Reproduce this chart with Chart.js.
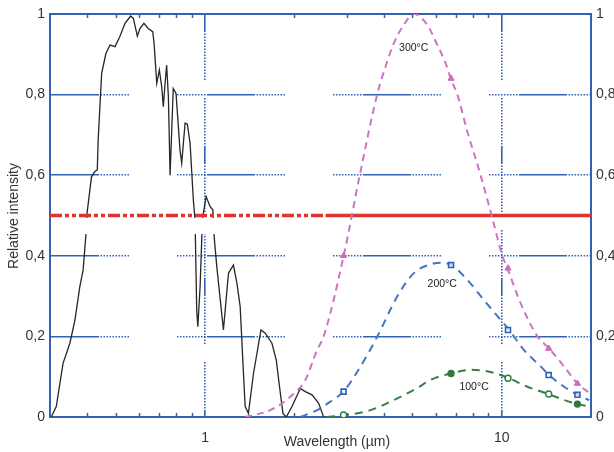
<!DOCTYPE html>
<html>
<head>
<meta charset="utf-8">
<script src="https://cdn.jsdelivr.net/npm/chart.js@4/dist/chart.umd.min.js"></script>
<style>
  html, body { margin: 0; padding: 0; background: #ffffff; }
  #wrap { width: 614px; height: 452px; }
</style>
</head>
<body>
<div id="wrap"><canvas id="chart" width="614" height="452"></canvas></div>
<script>
// Solar spectrum (relative intensity vs wavelength in µm)
const solarWavelength = [0.303, 0.315, 0.332, 0.350, 0.364, 0.378, 0.388, 0.396, 0.400, 0.414, 0.425, 0.433,
  0.436, 0.448, 0.463, 0.478, 0.497, 0.516, 0.537, 0.561, 0.573, 0.591, 0.603, 0.622, 0.643, 0.666, 0.673,
  0.687, 0.701, 0.714, 0.723, 0.733, 0.742, 0.752, 0.762, 0.781, 0.798, 0.823, 0.834, 0.856, 0.871, 0.890,
  0.913, 0.925, 0.937, 0.945, 0.962, 0.975, 0.982, 1.008, 1.040, 1.062, 1.067, 1.073, 1.095, 1.153, 1.199,
  1.246, 1.280, 1.313, 1.347, 1.365, 1.400, 1.456, 1.543, 1.595, 1.680, 1.738, 1.782, 1.830, 1.878, 1.963,
  2.094, 2.177, 2.294, 2.415, 2.510];
const solarIntensity = [0, 0.026, 0.133, 0.183, 0.24, 0.323, 0.365, 0.447, 0.506, 0.596, 0.609, 0.613,
  0.687, 0.853, 0.902, 0.923, 0.919, 0.944, 0.977, 0.995, 0.989, 0.945, 0.964, 0.977, 0.964, 0.956, 0.927,
  0.828, 0.861, 0.82, 0.77, 0.828, 0.873, 0.795, 0.6, 0.815, 0.803, 0.663, 0.63, 0.729, 0.727, 0.679,
  0.538, 0.489, 0.266, 0.224, 0.323, 0.447, 0.497, 0.547, 0.522, 0.514, 0.489, 0.447, 0.373, 0.216, 0.357,
  0.377, 0.332, 0.274, 0.108, 0.026, 0.009, 0.108, 0.216, 0.208, 0.183, 0.141, 0.075, 0.009, 0, 0.026,
  0.071, 0.063, 0.055, 0.034, 0];

// Thermal emission curves
const t300Wavelength = [1.365, 1.658, 1.937, 2.177, 2.385, 2.510, 2.933, 3.322, 3.803, 4.056, 4.326, 4.677,
  5.055, 5.61, 6.066, 6.47, 6.73, 7.087, 7.66, 8.49, 9.30, 10.05, 10.45, 11.59, 13.20, 14.45, 16.24, 18.02, 19.72];
const t300Intensity = [0, 0.017, 0.05, 0.092, 0.166, 0.2, 0.4, 0.6, 0.8, 0.869, 0.927, 0.973,
  1.0, 0.973, 0.923, 0.878, 0.84, 0.8, 0.708, 0.6, 0.493, 0.4, 0.369, 0.282, 0.2, 0.17, 0.125, 0.083, 0.06];

const t200Wavelength = [2.094, 2.385, 2.644, 2.926, 3.339, 3.803, 4.443, 5.055, 5.906, 6.222, 6.761, 7.66,
  8.71, 9.92, 10.59, 11.89, 13.55, 14.45, 16.24, 18.02, 19.72];
const t200Intensity = [0, 0.017, 0.038, 0.063, 0.125, 0.199, 0.299, 0.357, 0.381, 0.383, 0.377, 0.34,
  0.29, 0.241, 0.216, 0.166, 0.125, 0.104, 0.075, 0.055, 0.042];

const t100Wavelength = [2.577, 2.926, 3.61, 4.326, 5.19, 5.755, 6.73, 7.86, 8.71, 9.67, 10.59, 12.21,
  14.38, 16.24, 18.02, 19.72];
const t100Intensity = [0, 0.004, 0.017, 0.042, 0.072, 0.092, 0.108, 0.117, 0.115, 0.107, 0.096, 0.075,
  0.057, 0.042, 0.032, 0.026];

// Measured points on the emission curves
const markerWavelength = [2.93, 6.75, 10.5, 14.4, 18.0];
const t300Markers = [0.4, 0.84, 0.369, 0.17, 0.083];
const t200Markers = [0.063, 0.377, 0.216, 0.104, 0.055];
const t100Markers = [0.005, 0.108, 0.096, 0.057, 0.032];
const t100MarkerFilled = [false, true, false, false, true];

// Threshold line
const thresholdLevel = 0.5;
const thresholdDashedTo = 2.55;

// Axes
const xMin = 0.3, xMax = 20;
const xTickValues = [0.4, 0.5, 0.6, 0.7, 0.8, 0.9, 1, 2, 3, 4, 5, 6, 7, 8, 9, 10];
const xLabelledTicks = [1, 10];
const yMin = 0, yMax = 1, yStep = 0.2;

// Curve captions
const curveCaptions = ['300°C', '200°C', '100°C'];
const captionAnchors = [[5.05, 0.916], [6.3, 0.329], [8.07, 0.075]];

const BLUE = '#3262b4';
const FONT = '"Liberation Sans", Arial, sans-serif';
const TEXT = '#333333';

const pts = (xs, ys) => xs.map((x, i) => ({ x: x, y: ys[i] }));
const yLabel = v => {
  const r = Math.round(v * 10) / 10;
  if (r === 0) return '0';
  if (r === 1) return '1';
  return r.toFixed(1).replace('.', ',');
};
const dots = n => Array(2 * n).fill(1.5);
const hGridDash = [48].concat(dots(10));
const vGridDash = [18].concat(dots(16));

const decor = {
  id: 'decor',
  afterDatasetDraw(chart, args) {
    // White strip under the threshold line, hiding the spectrum there
    if (args.index !== 0) return;
    const { ctx, chartArea, scales } = chart;
    const yTop = scales.y.getPixelForValue(0.494);
    const yBot = scales.y.getPixelForValue(0.454);
    const xRight = scales.x.getPixelForValue(2.6);
    ctx.save();
    ctx.fillStyle = '#ffffff';
    ctx.fillRect(chartArea.left + 1.5, yTop, xRight - chartArea.left - 1.5, yBot - yTop);
    ctx.restore();
  },
  afterDraw(chart) {
    const { ctx, chartArea, scales } = chart;
    const xs = scales.x, ys = scales.y;
    ctx.save();
    // inward minor ticks on top and bottom frame
    ctx.strokeStyle = BLUE;
    ctx.lineWidth = 1.5;
    xTickValues.forEach(v => {
      if (xLabelledTicks.includes(v)) return;
      const px = Math.round(xs.getPixelForValue(v)) + 0.5;
      ctx.beginPath();
      ctx.moveTo(px, chartArea.bottom);
      ctx.lineTo(px, chartArea.bottom - 4);
      ctx.moveTo(px, chartArea.top);
      ctx.lineTo(px, chartArea.top + 4);
      ctx.stroke();
    });
    // curve captions
    ctx.fillStyle = '#222222';
    ctx.font = '10.5px ' + FONT;
    ctx.textAlign = 'center';
    ctx.textBaseline = 'middle';
    curveCaptions.forEach((t, i) => {
      ctx.fillText(t, xs.getPixelForValue(captionAnchors[i][0]), ys.getPixelForValue(captionAnchors[i][1]));
    });
    // axis titles
    ctx.fillStyle = TEXT;
    ctx.font = '14px ' + FONT;
    ctx.fillText('Wavelength (µm)', chartArea.left + 287, chartArea.bottom + 25);
    ctx.translate(14, chartArea.top + 202);
    ctx.rotate(-Math.PI / 2);
    ctx.fillText('Relative intensity', 0, 0);
    ctx.restore();
  }
};

new Chart(document.getElementById('chart'), {
  type: 'line',
  data: {
    datasets: [
      {
        label: 'Solar spectrum',
        data: pts(solarWavelength, solarIntensity),
        borderColor: '#262626', borderWidth: 1.3, pointRadius: 0, tension: 0, order: 10
      },
      {
        label: 'Threshold dashed',
        data: [{ x: xMin, y: thresholdLevel }, { x: thresholdDashedTo, y: thresholdLevel }],
        borderColor: '#dc3431', borderWidth: 3.5, borderDash: [12, 3, 4, 3, 4, 3], pointRadius: 0, order: 6
      },
      {
        label: 'Threshold',
        data: [{ x: thresholdDashedTo, y: thresholdLevel }, { x: xMax, y: thresholdLevel }],
        borderColor: '#dc3431', borderWidth: 3.5, pointRadius: 0, order: 6
      },
      {
        label: '300°C',
        data: pts(t300Wavelength, t300Intensity),
        borderColor: '#cf74c4', borderWidth: 2, borderDash: [7, 5], pointRadius: 0,
        cubicInterpolationMode: 'monotone', order: 4
      },
      {
        label: '200°C',
        data: pts(t200Wavelength, t200Intensity),
        borderColor: '#4673c4', borderWidth: 2, borderDash: [8, 6], pointRadius: 0,
        cubicInterpolationMode: 'monotone', order: 4
      },
      {
        label: '100°C',
        data: pts(t100Wavelength, t100Intensity),
        borderColor: '#3a7d45', borderWidth: 2, borderDash: [8, 6], pointRadius: 0,
        cubicInterpolationMode: 'monotone', order: 4
      },
      {
        label: '300°C points',
        data: pts(markerWavelength, t300Markers),
        showLine: false, pointStyle: 'triangle', pointRadius: 3.5,
        pointBackgroundColor: '#cf74c4', pointBorderColor: '#c064b6', pointBorderWidth: 1, order: 1
      },
      {
        label: '200°C points',
        data: pts(markerWavelength, t200Markers),
        showLine: false, pointStyle: 'rect', pointRadius: 3.5,
        pointBackgroundColor: 'rgba(255,255,255,0.7)', pointBorderColor: '#2e5fb8', pointBorderWidth: 1.6, order: 1
      },
      {
        label: '100°C points',
        data: pts(markerWavelength, t100Markers),
        showLine: false, pointStyle: 'circle', pointRadius: 3,
        pointBackgroundColor: t100MarkerFilled.map(f => f ? '#2f7a3c' : '#ffffff'),
        pointBorderColor: '#2f7a3c', pointBorderWidth: 1.4, order: 1
      }
    ]
  },
  options: {
    responsive: false,
    maintainAspectRatio: false,
    devicePixelRatio: 1,
    animation: false,
    layout: { padding: 0 },
    plugins: { legend: { display: false }, tooltip: { enabled: false }, title: { display: false } },
    scales: {
      x: {
        type: 'logarithmic', position: 'bottom', min: xMin, max: xMax,
        afterBuildTicks: s => { s.ticks = xTickValues.map(v => ({ value: v })); },
        afterFit: s => { s.height = 35; },
        grid: {
          color: c => (c.tick && xLabelledTicks.includes(c.tick.value)) ? BLUE : 'rgba(0,0,0,0)',
          lineWidth: 1.6, drawTicks: false
        },
        border: { display: true, color: BLUE, width: 2, dash: vGridDash },
        ticks: {
          autoSkip: false, maxRotation: 0, padding: 13, color: TEXT,
          font: { family: FONT, size: 14 },
          callback: v => xLabelledTicks.includes(v) ? String(v) : ''
        }
      },
      xTop: {
        type: 'logarithmic', axis: 'x', position: 'top', min: xMin, max: xMax,
        afterFit: s => { s.height = 14; },
        grid: { display: false, drawTicks: false },
        border: { display: true, color: BLUE, width: 2 },
        ticks: { display: false }
      },
      y: {
        type: 'linear', position: 'left', min: yMin, max: yMax,
        afterFit: s => { s.width = 50; },
        grid: {
          color: c => (c.tick && (c.tick.value <= 0.001 || c.tick.value >= 0.999)) ? 'rgba(0,0,0,0)' : BLUE,
          lineWidth: 1.6, drawTicks: false
        },
        border: { display: true, color: BLUE, width: 2, dash: hGridDash },
        ticks: { stepSize: yStep, padding: 5, color: TEXT, font: { family: FONT, size: 14 }, callback: yLabel }
      },
      y2: {
        type: 'linear', axis: 'y', position: 'right', min: yMin, max: yMax,
        afterFit: s => { s.width = 23; },
        grid: { drawOnChartArea: false, drawTicks: false },
        border: { display: true, color: BLUE, width: 2 },
        ticks: { stepSize: yStep, padding: 5, color: TEXT, font: { family: FONT, size: 14 }, callback: yLabel }
      }
    }
  },
  plugins: [decor]
});
</script>
</body>
</html>
